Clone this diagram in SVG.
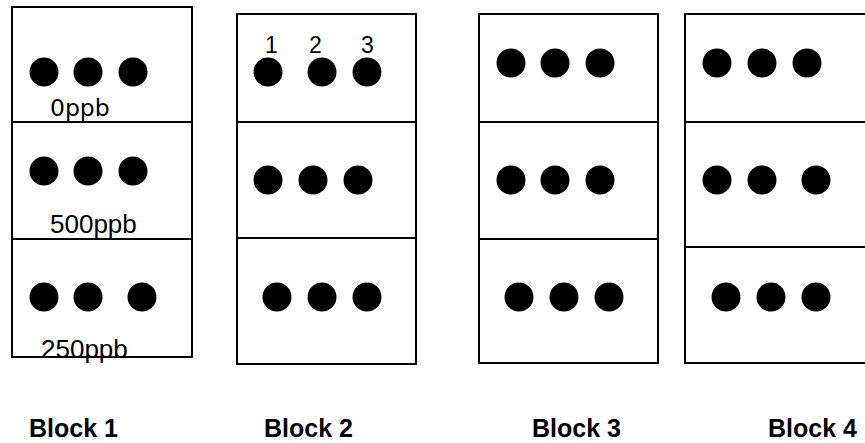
<svg xmlns="http://www.w3.org/2000/svg" width="865" height="443" viewBox="0 0 865 443">
<style>
.box{fill:none;stroke:#000;stroke-width:2}
.div{stroke:#000;stroke-width:2}
.dot{fill:#000}
.lbl{font-family:"Liberation Sans",Arial,sans-serif;font-size:26px;fill:#000}
.conc{font-family:"DejaVu Sans","Liberation Sans",sans-serif;font-size:23.5px;fill:#000}
.num{font-family:"Liberation Sans",Arial,sans-serif;font-size:23px;fill:#000}
.title{font-family:"Liberation Sans",Arial,sans-serif;font-size:25px;font-weight:bold;fill:#000}
</style>
<rect width="865" height="443" fill="#fff"/>
<g id="block1">
<rect class="box" x="12" y="7" width="180" height="350"/>
<line class="div" x1="12" y1="122" x2="192" y2="122"/>
<line class="div" x1="12" y1="239" x2="192" y2="239"/>
<circle class="dot" cx="44" cy="72" r="14.5"/><circle class="dot" cx="88" cy="72" r="14.5"/><circle class="dot" cx="133" cy="72" r="14.5"/>
<circle class="dot" cx="44" cy="171" r="14.5"/><circle class="dot" cx="88" cy="171" r="14.5"/><circle class="dot" cx="133" cy="171" r="14.5"/>
<circle class="dot" cx="44" cy="297" r="14.5"/><circle class="dot" cx="88" cy="297" r="14.5"/><circle class="dot" cx="142" cy="297" r="14.5"/>
<text class="conc" x="50" y="116">0ppb</text>
<text class="lbl" x="50" y="233">500ppb</text>
<text class="lbl" x="41" y="358">250ppb</text>
<text class="title" x="29" y="437">Block 1</text>
</g>
<g id="block2">
<rect class="box" x="237" y="14" width="179" height="350"/>
<line class="div" x1="237" y1="122" x2="416" y2="122"/>
<line class="div" x1="237" y1="238" x2="416" y2="238"/>
<circle class="dot" cx="268" cy="72" r="14.5"/><circle class="dot" cx="322" cy="72" r="14.5"/><circle class="dot" cx="367" cy="72" r="14.5"/>
<circle class="dot" cx="268" cy="180" r="14.5"/><circle class="dot" cx="313" cy="180" r="14.5"/><circle class="dot" cx="358" cy="180" r="14.5"/>
<circle class="dot" cx="277" cy="297" r="14.5"/><circle class="dot" cx="322" cy="297" r="14.5"/><circle class="dot" cx="367" cy="297" r="14.5"/>
<text class="num" x="265" y="53">1</text>
<text class="num" x="309" y="53">2</text>
<text class="num" x="361" y="53">3</text>
<text class="title" x="264" y="437">Block 2</text>
</g>
<g id="block3">
<rect class="box" x="479" y="14" width="179" height="349"/>
<line class="div" x1="479" y1="122" x2="658" y2="122"/>
<line class="div" x1="479" y1="239" x2="658" y2="239"/>
<circle class="dot" cx="511" cy="63" r="14.5"/><circle class="dot" cx="555" cy="63" r="14.5"/><circle class="dot" cx="600" cy="63" r="14.5"/>
<circle class="dot" cx="511" cy="180" r="14.5"/><circle class="dot" cx="555" cy="180" r="14.5"/><circle class="dot" cx="600" cy="180" r="14.5"/>
<circle class="dot" cx="519" cy="297" r="14.5"/><circle class="dot" cx="564" cy="297" r="14.5"/><circle class="dot" cx="609" cy="297" r="14.5"/>
<text class="title" x="532" y="437">Block 3</text>
</g>
<g id="block4">
<rect class="box" x="685" y="14" width="183" height="349"/>
<line class="div" x1="685" y1="122" x2="868" y2="122"/>
<line class="div" x1="685" y1="247" x2="868" y2="247"/>
<circle class="dot" cx="717" cy="63" r="14.5"/><circle class="dot" cx="762" cy="63" r="14.5"/><circle class="dot" cx="807" cy="63" r="14.5"/>
<circle class="dot" cx="717" cy="180" r="14.5"/><circle class="dot" cx="762" cy="180" r="14.5"/><circle class="dot" cx="816" cy="180" r="14.5"/>
<circle class="dot" cx="726" cy="297" r="14.5"/><circle class="dot" cx="771" cy="297" r="14.5"/><circle class="dot" cx="816" cy="297" r="14.5"/>
<text class="title" x="768" y="437">Block 4</text>
</g>
<g id="connectors"/>
</svg>
